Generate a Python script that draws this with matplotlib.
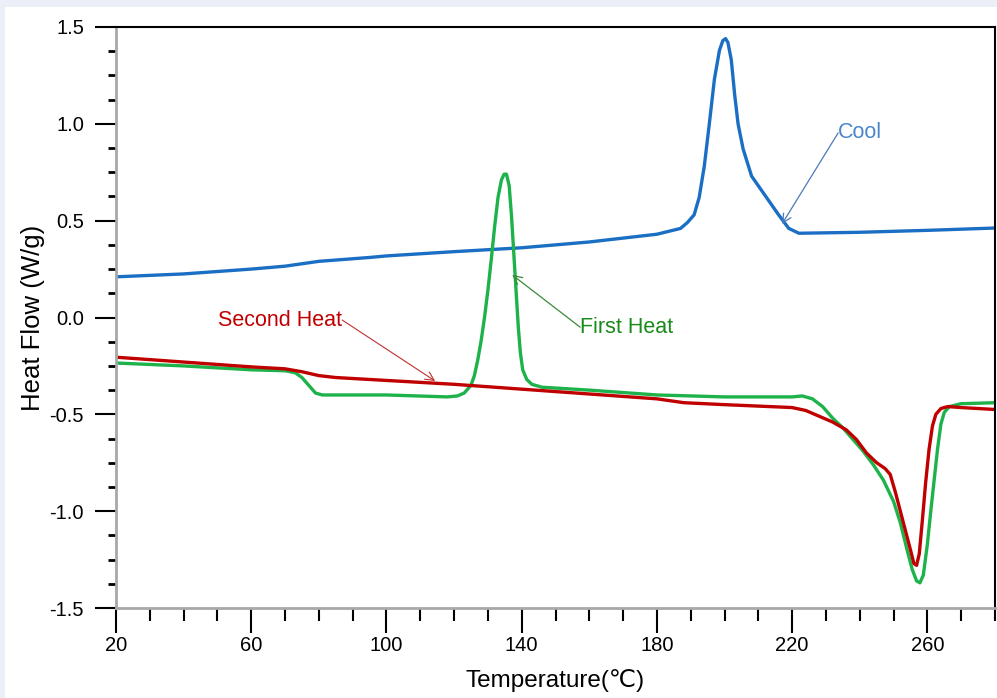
import matplotlib.pyplot as plt
from matplotlib.patches import Rectangle
from matplotlib.ticker import MultipleLocator, FixedLocator

# Cool curve
cool_t = [20, 40, 60, 70, 80, 95, 100, 120, 140, 160, 180, 187, 189, 191, 192.5, 194, 195.5, 197, 198.5,
          199.5, 200.3, 201, 202, 203, 204, 205.5, 208, 212, 216, 219, 222, 240, 260, 280]
cool_y = [0.21, 0.225, 0.25, 0.265, 0.29, 0.31, 0.318, 0.34, 0.36, 0.39, 0.43, 0.46, 0.49, 0.53, 0.62,
          0.78, 1.0, 1.23, 1.38, 1.43, 1.44, 1.42, 1.33, 1.15, 1.0, 0.87, 0.73, 0.63, 0.53, 0.46, 0.435,
          0.44, 0.45, 0.462]

# First heat curve
first_t = [20, 40, 60, 70, 73, 75, 77, 79, 81, 100, 118, 121, 123, 125, 126, 127, 128, 129, 130, 131,
           132, 133, 134, 134.8, 135.5, 136.3, 137, 137.7, 138.4, 139, 139.6, 140.3, 141.5, 143, 146,
           160, 180, 200, 220, 223, 226, 229, 232, 235, 238, 241, 244, 247, 250, 252, 254, 255.5, 256.8,
           257.8, 258.8, 260, 261, 262, 263, 264, 265, 266.5, 270, 280]
first_y = [-0.235, -0.25, -0.27, -0.275, -0.285, -0.31, -0.35, -0.39, -0.4, -0.4, -0.41, -0.405, -0.39,
           -0.35, -0.3, -0.22, -0.12, 0.0, 0.14, 0.3, 0.47, 0.62, 0.71, 0.74, 0.74, 0.68, 0.52, 0.32, 0.12,
           -0.05, -0.18, -0.27, -0.32, -0.345, -0.36, -0.375, -0.4, -0.41, -0.41, -0.405, -0.42, -0.46,
           -0.52, -0.57, -0.63, -0.69, -0.76, -0.84, -0.95, -1.06, -1.2, -1.3, -1.36, -1.37, -1.33, -1.17,
           -1.0, -0.84, -0.68, -0.55, -0.49, -0.46, -0.445, -0.44]

# Second heat curve
second_t = [20, 40, 60, 70, 75, 80, 85, 90, 100, 120, 140, 160, 180, 184, 188, 200, 220, 224, 228, 232,
            236, 239, 242, 245, 247.5, 249, 250.5, 252, 253.5, 255, 256, 256.8, 257.6, 258.5, 259.5,
            260.5, 261.5, 262.5, 264, 266, 270, 280]
second_y = [-0.205, -0.23, -0.255, -0.265, -0.28, -0.3, -0.31, -0.315, -0.325, -0.345, -0.37, -0.395,
            -0.42, -0.43, -0.44, -0.45, -0.465, -0.48, -0.51, -0.54, -0.58, -0.63, -0.7, -0.75, -0.78,
            -0.81, -0.9, -1.0, -1.1, -1.2, -1.27, -1.28, -1.22, -1.05, -0.85, -0.68, -0.56, -0.5, -0.47,
            -0.46, -0.465, -0.475]

x_ticks = [20, 60, 100, 140, 180, 220, 260]

font = ['Liberation Sans', 'DejaVu Sans']
plt.rcParams['font.family'] = font

fig = plt.figure(figsize=(9.97, 6.98), dpi=100)
fig.patch.set_facecolor('#ebf0f8')
fig.patches.append(Rectangle((5 / 997, 0), 1, 1 - 7 / 698, transform=fig.transFigure,
                             facecolor='white', edgecolor='none', zorder=-5))

ax = fig.add_axes([116 / 997, 1 - 608 / 698, (995 - 116) / 997, (608 - 27) / 698])
ax.set_facecolor('white')

ax.plot(cool_t, cool_y, color='#1a6fc4', lw=2.4)
ax.plot(first_t, first_y, color='#1db34a', lw=2.4)
ax.plot(second_t, second_y, color='#c00000', lw=2.4)

ax.annotate('Cool', xy=(217, 0.483), xytext=(233.6, 0.953), color='#4a86c8', fontsize=15.5,
            va='center', ha='left',
            arrowprops=dict(arrowstyle='->', color='#4a7ab8', lw=0.9, shrinkA=0, shrinkB=0,
                            patchA=None, relpos=(0, 0.5)))
ax.annotate('First Heat', xy=(137.2, 0.22), xytext=(157.3, -0.05), color='#1a8a1a', fontsize=15.5,
            va='center', ha='left',
            arrowprops=dict(arrowstyle='->', color='#3a8a3a', lw=0.9, shrinkA=0, shrinkB=0,
                            patchA=None, relpos=(0, 0.5)))
ax.annotate('Second Heat', xy=(114.4, -0.328), xytext=(86.9, -0.013), color='#c00000', fontsize=15.5,
            va='center', ha='right',
            arrowprops=dict(arrowstyle='->', color='#c03030', lw=0.8, shrinkA=0, shrinkB=0,
                            patchA=None, relpos=(1, 0.5)))

ax.set_xlim(20, 280)
ax.set_ylim(-1.5, 1.5)
ax.xaxis.set_major_locator(FixedLocator(x_ticks))
ax.xaxis.set_minor_locator(MultipleLocator(10))
ax.yaxis.set_major_locator(MultipleLocator(0.5))
ax.yaxis.set_minor_locator(MultipleLocator(0.125))
ax.yaxis.set_major_formatter(plt.FuncFormatter(lambda v, p: f'{v:.1f}'))

ax.tick_params(axis='x', which='major', direction='out', length=18, width=1.5, labelsize=14.5, pad=2)
ax.tick_params(axis='x', which='minor', direction='out', length=9, width=1.5)
ax.tick_params(axis='y', which='major', direction='out', length=15, width=1.5, labelsize=14.5, pad=8)
ax.tick_params(axis='y', which='minor', direction='out', length=6, width=2)

for s in ['left', 'bottom']:
    ax.spines[s].set_color('#a8a8a8')
    ax.spines[s].set_linewidth(2)
for s in ['top', 'right']:
    ax.spines[s].set_color('black')
    ax.spines[s].set_linewidth(1.5)

ax.set_xlabel('Temperature(℃)', fontsize=17.5, labelpad=10)
ax.set_ylabel('Heat Flow (W/g)', fontsize=18.5, labelpad=3)

fig.savefig('out.png', dpi=100)
